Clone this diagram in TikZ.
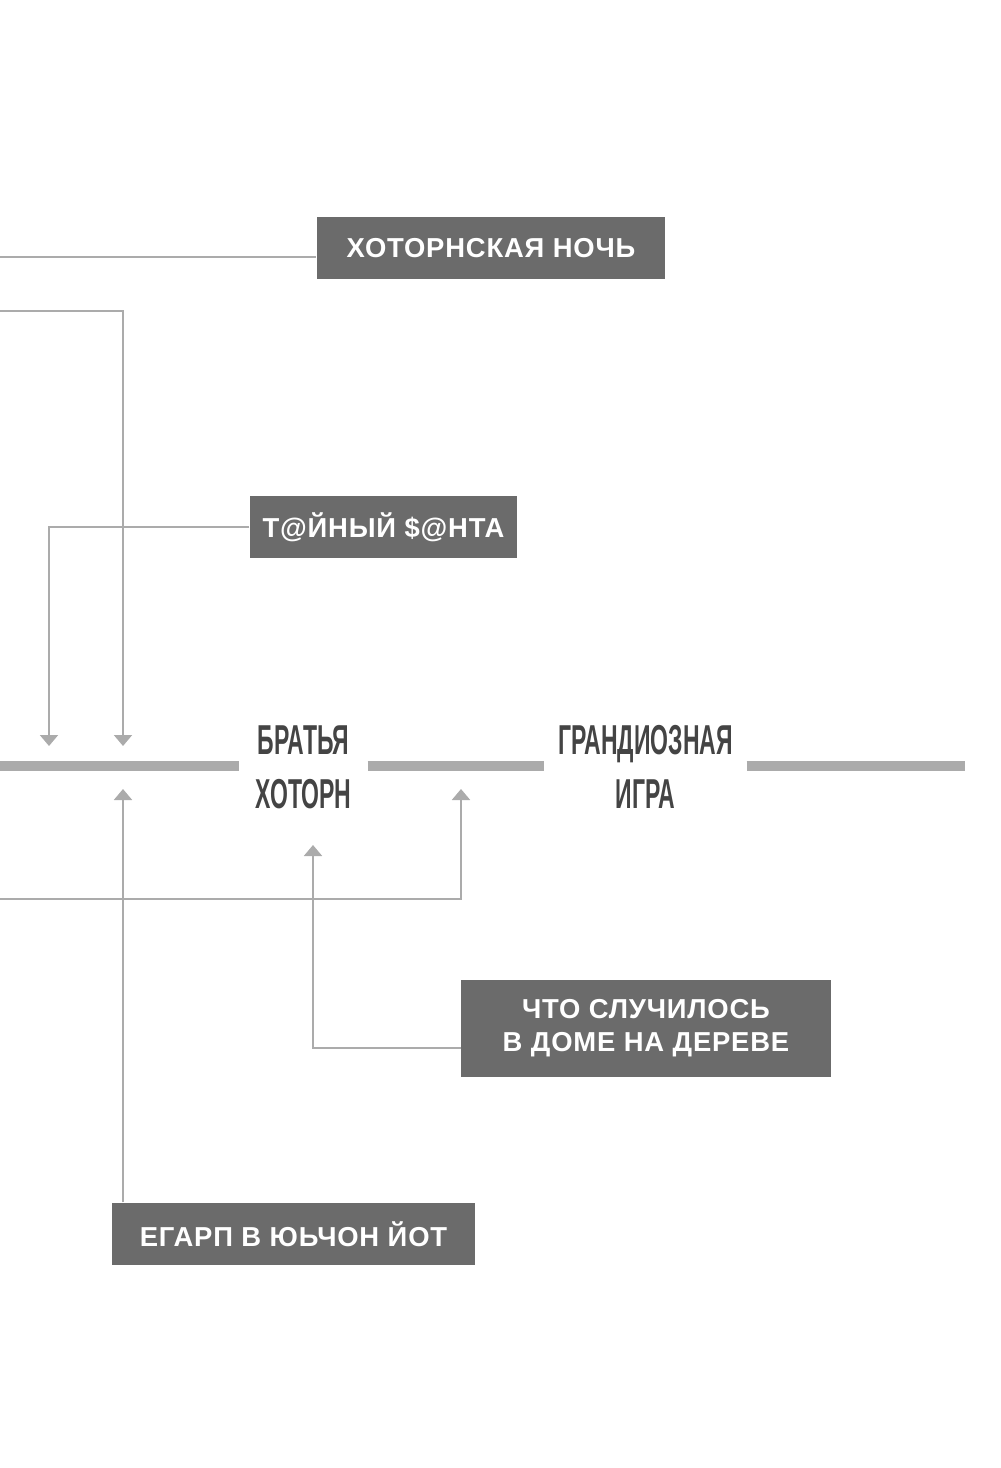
\documentclass[tikz,border=0pt]{standalone}
\usepackage{fontspec}
\setmainfont{Liberation Sans}
\newfontfamily\narrowfont[FakeStretch=0.55]{Liberation Sans}
\usetikzlibrary{arrows.meta}
\definecolor{boxgray}{HTML}{6B6B6B}
\definecolor{linegray}{HTML}{ABABAB}
\definecolor{titlegray}{HTML}{444444}
\tikzset{
  book/.style={fill=boxgray, text=white, font=\bfseries\fontsize{7.8}{9.4}\selectfont\addfontfeature{LetterSpace=3}, align=center, inner sep=0pt},
  title/.style={text=titlegray, font=\narrowfont\bfseries\fontsize{11.9}{15.4}\selectfont, align=center, inner sep=0pt},
  rail/.style={draw=linegray, line width=1mm},
  link/.style={draw=linegray, line width=0.2mm},
  arr/.style={link, -{Triangle[width=1.8mm, length=1.1mm]}},
}
\begin{document}
\begin{tikzpicture}[x=0.1mm, y=-0.1mm]
            \useasboundingbox (0,0) rectangle (1000,1468);
            \node[book, minimum width=34.8mm, minimum height=6.2mm] (HN) at (491,248) {ХОТОРНСКАЯ НОЧЬ};
            \node[book, minimum width=26.7mm, minimum height=6.2mm] (TS) at (383.5,527) {Т@ЙНЫЙ \$@НТА};
            \node[title, minimum width=12.7mm] (BH) at (303.5,767) {БРАТЬЯ\\ХОТОРН};
            \node[title, minimum width=20.1mm] (GI) at (645.5,767) {ГРАНДИОЗНАЯ\\ИГРА};
            \node[book, minimum width=37mm, minimum height=9.7mm] (CS) at (646,1028.5) {ЧТО СЛУЧИЛОСЬ\\В ДОМЕ НА ДЕРЕВЕ};
            \node[book, minimum width=36.3mm, minimum height=6.2mm] (EG) at (293.5,1234) {ЕГАРП В ЮЬЧОН ЙОТ};

            \coordinate (R0) at (0,766); \coordinate (R1) at (965,766);
            \coordinate (A0) at (0,257);
            \coordinate (B0) at (0,311); \coordinate (B1) at (123,746);
            \coordinate (C1) at (49,746);
            \coordinate (D1) at (123,789);
            \coordinate (E0) at (0,899); \coordinate (E1) at (461,789);
            \coordinate (F0) at (461,1048); \coordinate (F1) at (313,845);

            \draw[rail] (R0) -- (R0 -| BH.west); \draw[rail] (R0 -| BH.east) -- (R0 -| GI.west); \draw[rail] (R0 -| GI.east) -- (R1);
            \draw[link] (A0) -- (A0 -| HN.west); \draw[arr] (B0) -| (B1); \draw[arr] (TS.west) -| (C1);
            \draw[arr] (D1 |- EG.north) -- (D1); \draw[arr] (E0) -| (E1); \draw[arr] (F0) -| (F1);
        \end{tikzpicture}
\end{document}
